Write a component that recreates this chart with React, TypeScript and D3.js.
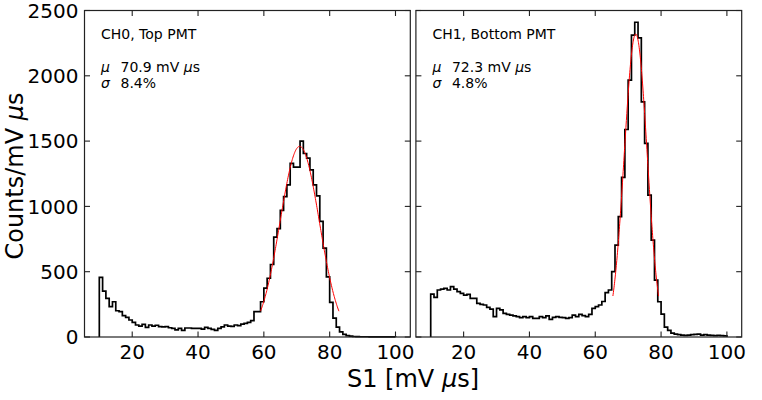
import React from 'react';
import * as d3 from 'd3';

// ---------- data ----------
const binLo = 10;
const binHi = 100;
const xTicks = [20, 40, 60, 80, 100];
const yTicks = [0, 500, 1000, 1500, 2000, 2500];

// Counts per mV µs, bins of width 1 from 10 to 100
const ch0Counts = [
  457, 352, 296, 232, 270, 201, 194, 163, 150, 130,
  112, 92, 84, 97, 74, 92, 84, 90, 79, 77,
  79, 71, 66, 54, 66, 51, 69, 69, 66, 66,
  66, 61, 74, 66, 59, 51, 66, 77, 92, 84,
  82, 92, 87, 99, 105, 112, 125, 194, 195, 270,
  375, 450, 555, 765, 830, 970, 1075, 1165, 1330, 1300,
  1300, 1500, 1405, 1370, 1280, 1165, 1080, 885, 680, 460,
  265, 145, 75, 40, 20, 10, 6, 4, 3, 2,
  2, 2, 1, 1, 1, 1, 1, 1, 1, 1,
];
const ch1Counts = [
  329, 304, 360, 367, 372, 360, 385, 367, 347, 334,
  321, 327, 296, 296, 258, 250, 245, 227, 214, 156,
  219, 207, 181, 173, 168, 161, 156, 148, 156, 148,
  156, 143, 143, 156, 148, 161, 135, 151, 156, 151,
  148, 143, 148, 168, 156, 173, 163, 156, 173, 219,
  232, 245, 272, 340, 360, 500, 704, 921, 1222, 1589,
  1967, 2311, 2410, 2290, 1801, 1482, 1087, 742, 436, 270,
  175, 75, 50, 30, 22, 18, 15, 12, 15, 18,
  20, 22, 15, 18, 15, 12, 10, 12, 10, 8,
];
const panelTitles = ['CH0, Top PMT', 'CH1, Bottom PMT'];
const fitMu = [70.9, 72.3];
const fitSigmaPct = [8.4, 4.8];
const fitAmp = [1460, 2320];
const panelCounts = [ch0Counts, ch1Counts];

// ---------- layout ----------
const W = 762;
const H = 400;
const left0 = 84.5;
const panelW = 325.8;
const gap = 5.6;
const top = 10.5;
const bottom = 337;
const tickLen = 5.5;
const FONT = '"DejaVu Sans", sans-serif';
const ANN = 14;

function Panel({ idx }: { idx: number }) {
  const x0 = left0 + idx * (panelW + gap);
  const x = d3.scaleLinear().domain([5.5, 104.5]).range([x0, x0 + panelW]);
  const y = d3.scaleLinear().domain([0, 2500]).range([bottom, top]);
  const counts = panelCounts[idx];
  const nb = counts.length;
  const bw = (binHi - binLo) / nb;

  const pts: [number, number][] = [[binLo, 0]];
  counts.forEach((c, i) => {
    pts.push([binLo + i * bw, c]);
    pts.push([binLo + (i + 1) * bw, c]);
  });
  pts.push([binHi, 0]);
  const line = d3
    .line<[number, number]>()
    .x((d) => x(d[0]))
    .y((d) => y(d[1]));

  const mu = fitMu[idx];
  const sig = (fitSigmaPct[idx] / 100) * mu;
  const amp = fitAmp[idx];
  const fitXs = d3.range(mu - 2 * sig, mu + 2 * sig + 1e-9, (4 * sig) / 200);
  const fitPts: [number, number][] = fitXs.map((u) => [
    u,
    amp * Math.exp(-((u - mu) * (u - mu)) / (2 * sig * sig)),
  ]);

  const tx = x0 + 16.5;
  return (
    <g>
      <path d={line(pts) || ''} fill="none" stroke="#000" strokeWidth={1.7} strokeLinejoin="miter" />
      <path d={line(fitPts) || ''} fill="none" stroke="#ff0000" strokeWidth={1} />
      {/* frame */}
      <rect x={x0} y={top} width={panelW} height={bottom - top} fill="none" stroke="#222" strokeWidth={1.2} />
      {/* ticks */}
      {xTicks.map((t) => (
        <g key={'xt' + t}>
          <line x1={x(t)} x2={x(t)} y1={bottom} y2={bottom - tickLen} stroke="#222" strokeWidth={1.1} />
          <line x1={x(t)} x2={x(t)} y1={top} y2={top + tickLen} stroke="#222" strokeWidth={1.1} />
          <text x={x(t)} y={359} textAnchor="middle" fontSize={20} fontFamily={FONT} fill="#000">
            {t}
          </text>
        </g>
      ))}
      {yTicks.map((t) => (
        <g key={'yt' + t}>
          <line x1={x0} x2={x0 + tickLen} y1={y(t)} y2={y(t)} stroke="#222" strokeWidth={1.1} />
          <line x1={x0 + panelW} x2={x0 + panelW - tickLen} y1={y(t)} y2={y(t)} stroke="#222" strokeWidth={1.1} />
          {idx === 0 && (
            <text x={x0 - 6} y={y(t)} dy="0.36em" textAnchor="end" fontSize={20} fontFamily={FONT} fill="#000">
              {t}
            </text>
          )}
        </g>
      ))}
      {/* annotations */}
      <text x={tx} y={39} fontSize={ANN} fontFamily={FONT} fill="#000">
        {panelTitles[idx]}
      </text>
      <text x={tx} y={71.5} fontSize={ANN} fontFamily={FONT} fill="#000" fontStyle="italic">
        μ
      </text>
      <text x={tx + 19.5} y={71.5} fontSize={ANN} fontFamily={FONT} fill="#000">
        {mu.toFixed(1)} mV <tspan fontStyle="italic">μ</tspan>s
      </text>
      <text x={tx} y={88} fontSize={ANN} fontFamily={FONT} fill="#000" fontStyle="italic">
        σ
      </text>
      <text x={tx + 19.5} y={88} fontSize={ANN} fontFamily={FONT} fill="#000">
        {fitSigmaPct[idx].toFixed(1)}%
      </text>
    </g>
  );
}

export default function App() {
  return (
    <svg
      width={W}
      height={H}
      viewBox={`0 0 ${W} ${H}`}
      style={{ position: 'absolute', left: 0, top: 0, background: '#fff' }}
    >
      <rect x={0} y={0} width={W} height={H} fill="#fff" />
      <Panel idx={0} />
      <Panel idx={1} />
      <text x={413} y={387} textAnchor="middle" fontSize={24} fontFamily={FONT} fill="#000">
        S1 [mV <tspan fontStyle="italic">μ</tspan>s]
      </text>
      <text
        transform={`translate(23,176) rotate(-90)`}
        textAnchor="middle"
        fontSize={24}
        fontFamily={FONT}
        fill="#000"
      >
        Counts/mV <tspan fontStyle="italic">μ</tspan>s
      </text>
    </svg>
  );
}
